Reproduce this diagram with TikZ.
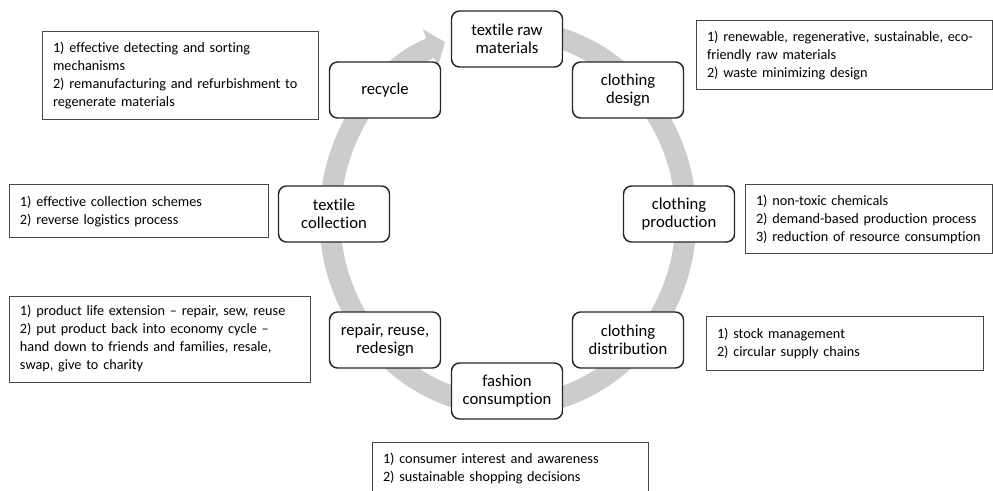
\documentclass[tikz,border=0pt]{standalone}
\usepackage{fontspec}
\setmainfont{Carlito}[Ligatures=NoCommon]
\usetikzlibrary{arrows.meta}
\definecolor{ringgray}{RGB}{204,204,204}
\definecolor{noteline}{RGB}{70,70,70}
\hyphenpenalty=10000
\tikzset{
	stage/.style={draw=black!85, line width=1.1pt, rounded corners=6pt, fill=white, minimum width=83.25pt, minimum height=42pt, inner sep=0pt, align=center, font=\fontsize{12.5}{13.5}\selectfont},
	note/.style={draw=noteline, line width=0.75pt, fill=white, inner xsep=8.25pt, inner ysep=0pt, align=left, font=\fontsize{10.7}{13.5}\selectfont},
	ring/.style={draw=ringgray, line width=15.75pt, -{Triangle[length=12pt,width=30pt]}}
}

\begin{document}
\begin{tikzpicture}[x=0.75pt, y=0.75pt]
			%%%%% START %%%%%
			\useasboundingbox (0, 0) rectangle (993, 490);
			
			\coordinate (hub) at (508, 272);
			\draw[ring] (hub) ++(80:178 and 188) arc[start angle=80, end angle=-249.3, x radius=178, y radius=188];
			
			\node[stage] (raw) at (507, 451) {textile raw\\materials};
			\node[stage] (design) at (628, 400) {clothing\\design};
			\node[stage] (production) at (679, 276) {clothing\\production};
			\node[stage] (distribution) at (628, 150) {clothing\\distribution};
			\node[stage] (consumption) at (507, 99) {fashion\\consumption};
			\node[stage] (repair) at (385, 150) {repair, reuse,\\redesign};
			\node[stage] (collection) at (334, 276) {textile\\collection};
			\node[stage] (recycle) at (385, 400) {recycle};
			
			\node[note, text width=190.5pt, minimum height=66pt] (recyclenote) at (180, 414) {1) effective detecting and sorting\\mechanisms\\2) remanufacturing and refurbishment to\\regenerate materials};
			\node[note, text width=205.5pt, minimum height=51.75pt] (designnote) at (844, 434.5) {1) renewable, regenerative, sustainable, eco-\\friendly raw materials\\2) waste minimizing design};
			\node[note, text width=168.75pt, minimum height=51pt] (productionnote) at (868.5, 271) {1) non-toxic chemicals\\2) demand-based production process\\3) reduction of resource consumption};
			\node[note, text width=191.25pt, minimum height=40.5pt] (distributionnote) at (844.5, 147) {1) stock management\\2) circular supply chains};
			\node[note, text width=190.5pt, minimum height=40.5pt] (consumptionnote) at (510, 21) {1) consumer interest and awareness\\2) sustainable shopping decisions};
			\node[note, text width=209.25pt, minimum height=64.5pt] (repairnote) at (159.5, 151) {1) product life extension -- repair, sew, reuse\\2) put product back into economy cycle --\\hand down to friends and families, resale,\\swap, give to charity};
			\node[note, text width=177.75pt, minimum height=39.75pt] (collectionnote) at (138.5, 278.5) {1) effective collection schemes\\2) reverse logistics process};
			%%%%% END %%%%%
\end{tikzpicture}
\end{document}
